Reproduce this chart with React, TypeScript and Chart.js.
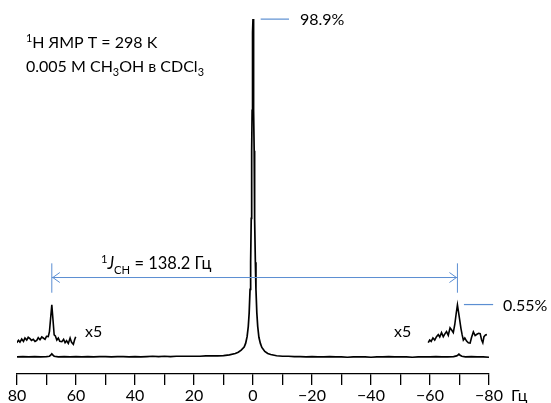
import React, { useEffect, useRef } from "react";
import { Chart, registerables } from "chart.js";

Chart.register(...registerables);

// Main 1H spectrum (frequency in Hz, intensity with main peak = 100)
const mainHz = [
  80, 78, 76, 74, 72, 70, 69, 68.6, 68.2, 67.8, 67.4, 66, 64, 62, 60, 58, 56, 54, 52, 50,
  48, 46, 44, 42, 40, 38, 36, 34, 32, 30, 28, 26, 24, 22, 20, 18, 16, 14, 12, 10,
  8, 6, 5, 4, 3, 2.5, 2, 1.6, 1.3, 1.0, 0.8, 0.6, 0.5, 0.4, 0.3, 0.2, 0.1, 0,
  -0.1, -0.2, -0.3, -0.4, -0.5, -0.6, -0.8, -1.0, -1.3, -1.6, -2, -2.5, -3, -4, -5, -6,
  -8, -10, -12, -14, -16, -18, -20, -22, -24, -26, -28, -30, -32, -34, -36, -38, -40,
  -42, -44, -46, -48, -50, -52, -54, -56, -58, -60, -62, -64, -66, -68, -69, -69.4, -69.8,
  -70.2, -70.8, -72, -74, -76, -78, -80,
];
const mainInt = [
  0.0, 0.1, 0.0, 0.1, 0.0, 0.1, 0.2, 0.5, 0.9, 0.5, 0.2, 0.0, 0.1, 0.0, 0.1, 0.0, 0.1, 0.0, 0.1, 0.1,
  0.0, 0.1, 0.1, 0.0, 0.1, 0.0, 0.1, 0.2, 0.1, 0.2, 0.1, 0.2, 0.2, 0.2, 0.2, 0.2, 0.3, 0.3, 0.3, 0.4,
  0.6, 1.0, 1.4, 2.0, 2.9, 4.0, 6.0, 9, 13, 20, 28, 41, 50, 61, 73, 86, 96, 100,
  96, 86, 73, 61, 50, 41, 28, 20, 13, 9, 5.8, 4.0, 2.8, 1.6, 1.0, 0.7,
  0.35, 0.2, 0.2, 0.1, 0.1, 0.0, 0.1, 0.0, 0.0, 0.1, 0.0, 0.0, -0.1, 0.0, 0.0, 0.0, -0.1,
  0.0, 0.0, 0.1, 0.0, 0.0, 0.0, -0.1, 0.0, 0.0, 0.0, 0.1, 0.0, 0.0, 0.1, 0.3, 0.5, 0.8,
  0.5, 0.2, 0.0, 0.1, 0.0, 0.0, -0.1,
];

// x5 expanded inset, low-field 13C satellite
const leftInsetHz = [
  80.1, 79.5, 79.0, 78.4, 77.8, 77.3, 76.7, 76.2, 75.6, 75.1, 74.5, 73.9, 73.3, 72.8,
  72.2, 71.6, 71.1, 70.5, 70.0, 69.4, 69.0, 68.6, 68.2, 67.8, 67.4, 67.0, 66.5, 66.0,
  65.5, 64.8, 64.2, 63.7, 63.2, 62.6, 62.0, 61.5, 60.9, 60.5, 60.1,
];
const leftInsetInt = [
  4.2, 4.9, 4.4, 5.3, 4.6, 5.6, 5.0, 5.8, 5.4, 4.9, 5.2, 4.6, 4.9, 5.7,
  5.1, 5.9, 5.6, 5.2, 6.1, 6.0, 7.5, 11.5, 15.4, 11.0, 6.5, 6.2, 5.0, 5.6,
  4.6, 4.5, 5.2, 4.2, 4.8, 4.0, 5.6, 4.3, 3.7, 5.0, 6.0,
];

// x5 expanded inset, high-field 13C satellite
const rightInsetHz = [
  -59.4, -59.9, -60.4, -61.0, -61.6, -62.2, -62.8, -63.3, -63.9, -64.5, -65.1, -65.6,
  -66.2, -66.8, -67.4, -67.9, -68.4, -68.9, -69.3, -69.8, -70.5, -70.9, -71.3, -71.8,
  -72.4, -73.0, -73.6, -74.1, -74.7, -75.3, -75.9, -76.5, -77.0, -77.5, -77.9, -78.3,
  -78.8, -79.3,
];
const rightInsetInt = [
  4.2, 5.0, 4.6, 5.6, 5.0, 6.0, 6.6, 5.9, 7.2, 6.0, 6.9, 7.5,
  6.4, 8.6, 7.9, 7.2, 9.6, 13.0, 15.4, 12.5, 8.4, 6.5, 5.0, 5.6,
  4.7, 4.2, 4.1, 5.8, 7.4, 6.3, 6.7, 7.0, 6.9, 5.0, 4.2, 6.0,
  6.5, 6.6,
];

const xTickValues = [80, 60, 40, 20, 0, -20, -40, -60, -80];
const xMin = -80;
const xMax = 80;
const yMin = -5.06;
const yMax = 102.7;

// annotation anchors (data units)
const mainPeakLabel = "98.9%";
const satLabel = "0.55%";
const couplingValue = "138.2";
const satPositions = [68.2, -69.3];
const arrowLevel = 23.5;
const arrowTickTop = 27.7;
const arrowTickBottom = 19.0;
const satLabelLevel = 15.5;
const insetScaleLabel = "x5";

const FONT = "Lato, 'Open Sans', sans-serif";
const BLUE = "#5b8ed2";

type Part = { t: string; sub?: boolean; sup?: boolean; it?: boolean };

function drawRich(ctx: CanvasRenderingContext2D, x: number, y: number, parts: Part[], size: number) {
  let cx = x;
  for (const p of parts) {
    const small = p.sub || p.sup;
    const fs = small ? size * 0.68 : size;
    ctx.font = `${p.it ? "italic " : ""}${fs}px ${FONT}`;
    const dy = p.sub ? size * 0.28 : p.sup ? -size * 0.36 : 0;
    ctx.fillText(p.t, cx, y + dy);
    cx += ctx.measureText(p.t).width;
  }
}

const annotPlugin = {
  id: "annot",
  afterDatasetsDraw(chart: any) {
    const { ctx } = chart;
    const xs = chart.scales.x;
    const ys = chart.scales.y;
    ctx.save();
    ctx.fillStyle = "#000";
    ctx.textBaseline = "alphabetic";
    ctx.textAlign = "left";

    // header text
    drawRich(ctx, 26, 48, [{ t: "1", sup: true }, { t: "H ЯМР T = 298 K" }], 16);
    drawRich(
      ctx,
      26,
      72,
      [{ t: "0.005 M CH" }, { t: "3", sub: true }, { t: "OH в CDCl" }, { t: "3", sub: true }],
      16
    );

    // blue lines
    ctx.strokeStyle = BLUE;
    ctx.lineWidth = 1.2;
    const yPeak = ys.getPixelForValue(100);
    ctx.beginPath();
    ctx.moveTo(xs.getPixelForValue(-2.6), yPeak);
    ctx.lineTo(xs.getPixelForValue(-12.2), yPeak);
    ctx.stroke();

    const ySat = ys.getPixelForValue(satLabelLevel);
    ctx.beginPath();
    ctx.moveTo(xs.getPixelForValue(-71.5), ySat);
    ctx.lineTo(xs.getPixelForValue(-81.4), ySat);
    ctx.stroke();

    // coupling arrow
    const xa = xs.getPixelForValue(satPositions[0]);
    const xb = xs.getPixelForValue(satPositions[1]);
    const ya = ys.getPixelForValue(arrowLevel);
    const yt = ys.getPixelForValue(arrowTickTop);
    const yb = ys.getPixelForValue(arrowTickBottom);
    ctx.lineWidth = 1;
    ctx.beginPath();
    ctx.moveTo(xa, ya);
    ctx.lineTo(xb, ya);
    ctx.moveTo(xa, yt);
    ctx.lineTo(xa, yb);
    ctx.moveTo(xb, yt);
    ctx.lineTo(xb, yb);
    // heads
    ctx.moveTo(xa + 8, ya - 5);
    ctx.lineTo(xa + 1, ya);
    ctx.lineTo(xa + 8, ya + 5);
    ctx.moveTo(xb - 8, ya - 5);
    ctx.lineTo(xb - 1, ya);
    ctx.lineTo(xb - 8, ya + 5);
    ctx.stroke();

    // labels
    ctx.fillStyle = "#000";
    ctx.font = `16px ${FONT}`;
    ctx.fillText(mainPeakLabel, 300, yPeak + 6);
    ctx.fillText(satLabel, 503, ySat + 6);
    ctx.fillText(insetScaleLabel, 85, 337);
    ctx.fillText(insetScaleLabel, 394, 337);
    ctx.textBaseline = "middle";
    ctx.fillText("Гц", 511, xs.top + 11 + 3 + 8);
    ctx.textBaseline = "alphabetic";

    drawRich(
      ctx,
      101,
      269,
      [{ t: "1", sup: true }, { t: "J", it: true }, { t: "CH", sub: true }, { t: ` = ${couplingValue} Гц` }],
      16.5
    );
    ctx.restore();
  },
};

export default function App() {
  const ref = useRef<HTMLCanvasElement>(null);
  useEffect(() => {
    if (!ref.current) return;
    const toPts = (xs: number[], ys: number[]) => xs.map((x, i) => ({ x, y: ys[i] }));
    const chart = new Chart(ref.current, {
      type: "line",
      data: {
        datasets: [
          { data: toPts(mainHz, mainInt), borderColor: "#000", borderWidth: 1.7, pointRadius: 0, tension: 0 },
          { data: toPts(leftInsetHz, leftInsetInt), borderColor: "#000", borderWidth: 1.6, pointRadius: 0, tension: 0 },
          { data: toPts(rightInsetHz, rightInsetInt), borderColor: "#000", borderWidth: 1.6, pointRadius: 0, tension: 0 },
        ],
      },
      options: {
        responsive: false,
        animation: false,
        layout: { padding: { left: 17, right: 62, top: 10, bottom: -4 } },
        plugins: { legend: { display: false }, tooltip: { enabled: false } },
        scales: {
          x: {
            type: "linear",
            min: xMin,
            max: xMax,
            reverse: true,
            border: { display: true, color: "#000", width: 1.3 },
            grid: { drawOnChartArea: false, drawTicks: true, tickLength: 11, color: "#000", lineWidth: 1.3 },
            ticks: {
              stepSize: 10,
              autoSkip: false,
              maxRotation: 0,
              padding: 3,
              color: "#000",
              font: { family: FONT, size: 16, lineHeight: 1 },
              callback: (v: any) =>
                xTickValues.includes(Number(v)) ? (Number(v) < 0 ? "\u2212" + Math.abs(Number(v)) : String(v)) : "",
            },
          },
          y: { display: false, min: yMin, max: yMax },
        },
      },
      plugins: [annotPlugin],
    });
    return () => chart.destroy();
  }, []);
  return (
    <div style={{ position: "fixed", left: 0, top: 0, width: 551, height: 403, background: "#fff" }}>
      <canvas ref={ref} width={551} height={403} />
    </div>
  );
}
